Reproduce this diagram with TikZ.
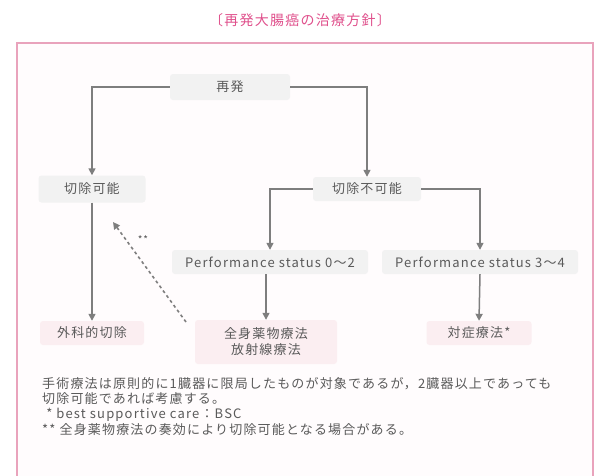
\documentclass[tikz,border=0pt]{standalone}
\usepackage{fontspec}
\setmainfont[LetterSpace=9]{Noto Sans CJK JP}
\usetikzlibrary{arrows.meta}
\definecolor{pinkline}{HTML}{E9A3BC}
\definecolor{titlepink}{HTML}{E0508C}
\definecolor{txt}{HTML}{5A5A5A}
\definecolor{ln}{HTML}{7E7E7E}
\definecolor{graybg}{HTML}{F2F2F2}
\definecolor{pinkbg}{HTML}{FBEEF1}
\definecolor{framebg}{HTML}{FFFCFD}
\tikzset{
  box/.style={fill=graybg, rounded corners=3pt, text=txt, inner sep=0pt,
    font=\fontsize{13}{16}\selectfont, minimum height=24pt, align=center},
  pbox/.style={box, fill=pinkbg},
  conn/.style={draw=ln, line width=1.5pt, -{Triangle[width=7pt,length=7pt]}},
  dconn/.style={draw=ln, line width=1.6pt, dash pattern=on 3pt off 3pt, -{Triangle[width=7pt,length=7pt]}},
  note/.style={text=txt, inner sep=0pt, anchor=north west, align=left,
    font=\fontsize{13}{15.3}\selectfont}
}
\begin{document}
\begin{tikzpicture}[x=1pt,y=-1pt]
\useasboundingbox[fill=white] (0,0) rectangle (600,475);
\node[text=titlepink, font=\fontsize{14}{16}\selectfont] (title) at (300,20) {〔再発大腸癌の治療方針〕};
\draw[pinkline, line width=1.5pt, fill=framebg] (17,43) rectangle (593,490);

\node[box, minimum width=120pt, minimum height=26pt] (rec) at (230,87) {再発};
\node[box, minimum width=107pt, minimum height=27pt] (res) at (92,189) {切除可能};
\node[box, minimum width=108pt] (unres) at (367,189) {切除不可能};
\node[box, minimum width=196pt] (ps02) at (270,262) {Performance status 0〜2};
\node[box, minimum width=196pt] (ps34) at (480,262) {Performance status 3〜4};
\node[pbox, minimum width=104pt] (surg) at (92,333) {外科的切除};
\node[pbox, minimum width=142pt, minimum height=44pt] (chemo) at (266,342) {全身薬物療法\\放射線療法};
\node[pbox, minimum width=105pt] (bsc) at (479,333) {対症療法*};

\draw[conn] (rec.west) -| (res.north);
\draw[conn] (rec.east) -| (unres.north);
\draw[conn] (res.south) -- (surg.north);
\draw[conn] (unres.west) -| (ps02.north);
\draw[conn] (unres.east) -| (ps34.north);
\draw[conn] (ps02.south -| chemo.north) -- (chemo.north);
\draw[conn] (ps34.south) -- (bsc.north);

\coordinate (dstart) at (186,322);
\coordinate (dend) at (113,222);
\draw[dconn] (dstart) -- (dend);
\node[text=txt, font=\fontsize{10}{12}\selectfont, inner sep=0pt] (ast) at (143,240) {**};

\node[note] (fn) at (42,377) {手術療法は原則的に1臓器に限局したものが対象であるが，2臓器以上であっても\\
切除可能であれば考慮する。\\
\ * best supportive care：BSC\\
** 全身薬物療法の奏効により切除可能となる場合がある。};
\end{tikzpicture}
\end{document}
